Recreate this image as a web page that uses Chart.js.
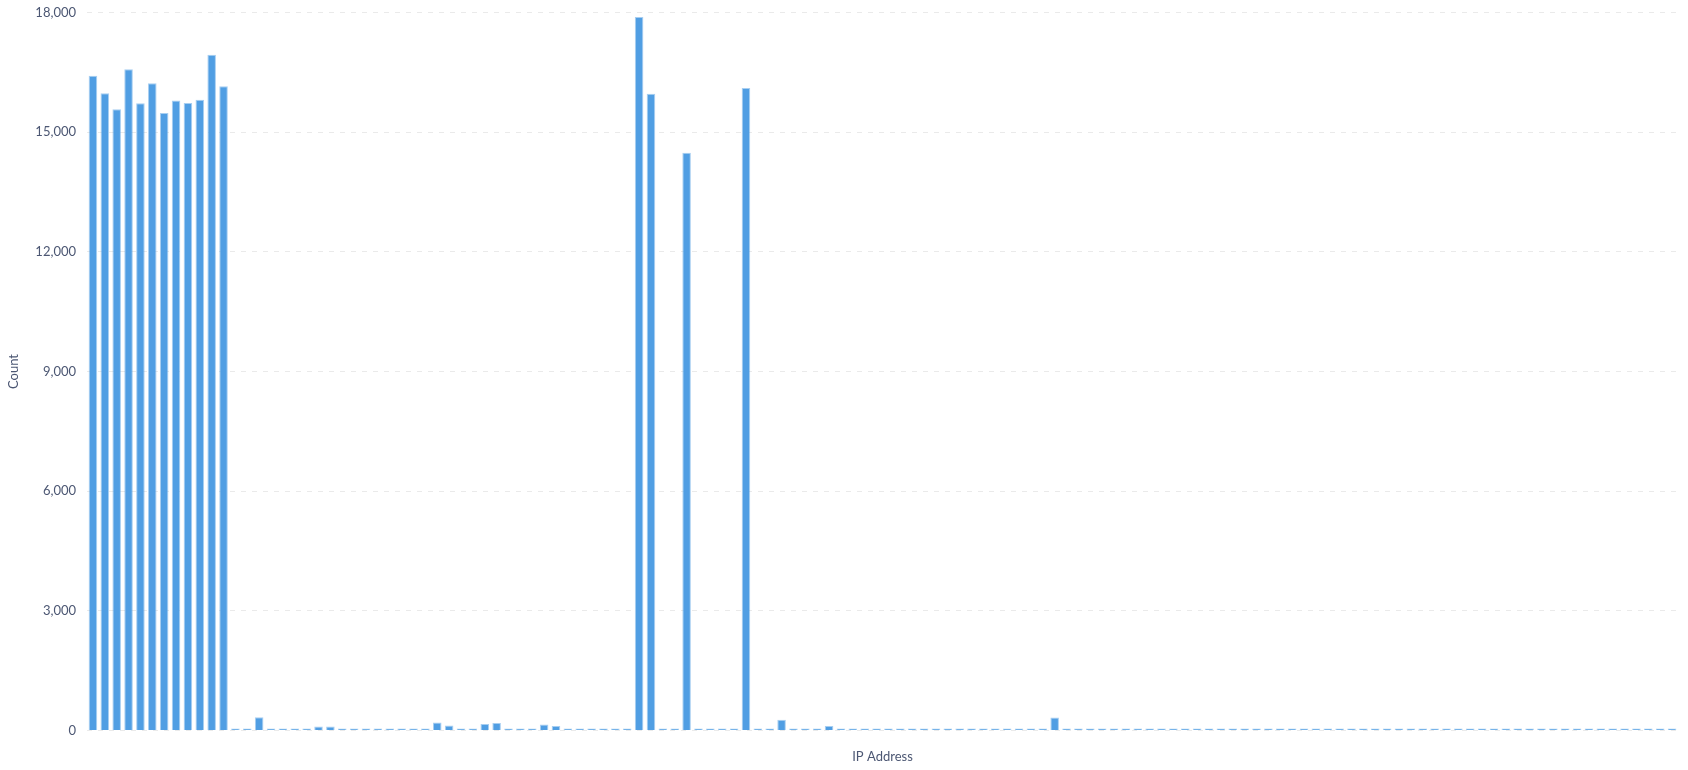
<!DOCTYPE html>
<html>
<head>
<meta charset="utf-8">
<script src="https://cdn.jsdelivr.net/npm/chart.js@4"></script>
<style>
  html, body { margin: 0; padding: 0; background: #ffffff; }
  #wrap { width: 1688px; height: 770px; position: relative; }
</style>
</head>
<body>
<div id="wrap"><canvas id="c"></canvas></div>
<script>
// Count per IP address (134 addresses; axis labels are not shown in the chart)
const counts = [
  16416, 15973, 15572, 16575, 15722, 16224, 15480, 15797, 15730, 15814,
  16943, 16149, 5, 5, 331, 5, 5, 5, 5, 98,
  98, 5, 45, 5, 5, 5, 5, 5, 45, 198,
  125, 5, 5, 160, 188, 5, 40, 40, 153, 115,
  40, 5, 5, 5, 5, 5, 17888, 15964, 5, 5,
  14485, 5, 5, 45, 5, 16107, 5, 5, 268, 5,
  5, 5, 115, 45, 5, 5, 5, 5, 5, 5,
  5, 5, 5, 5, 5, 5, 5, 5, 5, 5,
  5, 323, 5, 40, 5, 45, 5, 50, 5, 5,
  5, 5, 5, 5, 5, 5, 5, 5, 5, 5,
  5, 5, 5, 5, 5, 5, 5, 5, 5, 5,
  5, 5, 5, 5, 5, 5, 5, 5, 5, 5,
  5, 5, 5, 5, 5, 5, 5, 5, 5, 5,
  45, 5, 5, 5
];
const ipLabels = counts.map((_, i) => 'IP ' + (i + 1));
const yTicks = [0, 3000, 6000, 9000, 12000, 15000, 18000];
const xTitle = 'IP Address';
const yTitle = 'Count';

const textColor = '#4C5773';

new Chart(document.getElementById('c'), {
  type: 'bar',
  data: {
    labels: ipLabels,
    datasets: [{
      label: yTitle,
      data: counts,
      backgroundColor: '#509EE3',
      borderColor: 'rgba(80,158,227,0.5)',
      borderWidth: 1,
      minBarLength: 2,
      categoryPercentage: 0.8,
      barPercentage: 0.9
    }]
  },
  options: {
    responsive: true,
    maintainAspectRatio: false,
    devicePixelRatio: 1,
    animation: false,
    layout: { padding: { top: 12.5, right: 10, left: 0, bottom: 0 } },
    plugins: {
      legend: { display: false },
      tooltip: { enabled: false }
    },
    scales: {
      x: {
        grid: { display: false },
        border: { display: false },
        ticks: { display: false },
        title: {
          display: true,
          text: xTitle,
          color: textColor,
          font: { family: 'Lato', size: 13 },
          padding: { top: 0, bottom: 5 }
        },
        afterFit: (s) => { s.height = 39.5; s.paddingLeft = 0; s.paddingRight = 0; }
      },
      y: {
        min: yTicks[0],
        max: yTicks[yTicks.length - 1],
        afterBuildTicks: (s) => { s.ticks = yTicks.map(v => ({ value: v })); },
        grid: {
          color: '#EAEAEA',
          drawTicks: false,
          lineWidth: 1
        },
        border: { display: false, dash: [5, 6] },
        ticks: {
          color: textColor,
          font: { family: 'Lato', size: 13 },
          padding: 11,
          callback: (v) => Number(v).toLocaleString('en-US')
        },
        title: {
          display: true,
          text: yTitle,
          color: textColor,
          font: { family: 'Lato', size: 13 },
          padding: { top: 6, bottom: 0 }
        },
        afterFit: (s) => { s.width = 87; s.paddingTop = 0; s.paddingBottom = 0; }
      }
    }
  }
});
</script>
</body>
</html>
